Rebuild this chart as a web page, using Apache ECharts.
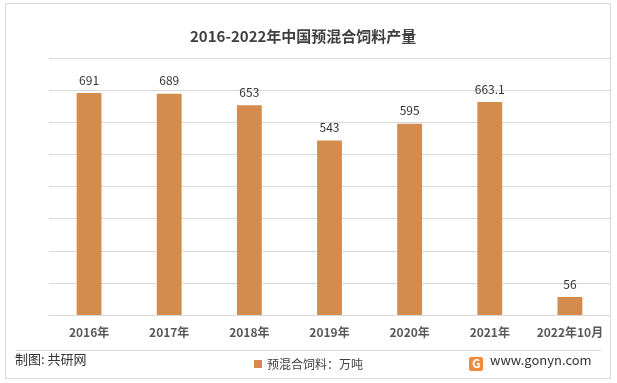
<!DOCTYPE html>
<html><head><meta charset="utf-8">
<script src="https://cdn.jsdelivr.net/npm/echarts@6/dist/echarts.min.js"></script>
<style>html,body{margin:0;padding:0;background:#fff}#c{width:617px;height:383px}</style>
</head><body><div id="c"></div>
<script>
const categories = ['2016年','2017年','2018年','2019年','2020年','2021年','2022年10月'];
const values = [691, 689, 653, 543, 595, 663.1, 56];
const seriesName = '预混合饲料：万吨';
const titleText = '2016-2022年中国预混合饲料产量';
const font = '"Microsoft YaHei","Noto Sans CJK SC",sans-serif';
const chart = echarts.init(document.getElementById('c'));
chart.setOption({
  animation: false,
  backgroundColor: '#fff',
  title: { text: titleText, left: 185, top: 24,
    textStyle: { fontFamily: font, fontSize: 15, fontWeight: 'bold', color: '#404040' } },
  grid: { left: 49, right: 7, top: 58, bottom: 68 },
  legend: { data: [seriesName], left: 'center', top: 353, itemWidth: 8, itemHeight: 8, icon: 'rect',
    textStyle: { fontFamily: font, fontSize: 12, color: '#404040' } },
  xAxis: { type: 'category', data: categories,
    axisLine: { lineStyle: { color: '#D9D9D9' } }, axisTick: { show: false },
    axisLabel: { margin: 11, fontFamily: font, fontSize: 12, fontWeight: 'bold', color: '#595959', interval: 0 } },
  yAxis: { type: 'value', min: 0, max: 800, interval: 100,
    axisLabel: { show: false }, axisLine: { show: false }, axisTick: { show: false },
    splitLine: { lineStyle: { color: '#D9D9D9', width: 1 } } },
  series: [{ name: seriesName, type: 'bar', data: values, barWidth: '31%',
    itemStyle: { color: '#D48B4E' },
    label: { show: true, position: 'top', distance: 7, fontFamily: font, fontSize: 12, color: '#333' } }],
  graphic: [
    { type: 'rect', shape: { x: 5.5, y: 3.5, width: 605, height: 375 }, style: { fill: 'none', stroke: '#D9D9D9', lineWidth: 1 }, z: -1 },
    { type: 'line', shape: { x1: 16, y1: 350.5, x2: 601, y2: 350.5 }, style: { stroke: '#D9D9D9', lineWidth: 1 } },
    { type: 'text', left: 15, top: 353, style: { text: '制图: 共研网', fontFamily: font, fontSize: 13, fill: '#333' } },
    { type: 'rect', shape: { x: 469, y: 357, width: 14, height: 14, r: 2 }, style: { fill: '#F08A3C' } },
    { type: 'text', left: 472, top: 357, style: { text: 'G', fontFamily: font, fontSize: 12, fontWeight: 'bold', fill: '#fff' } },
    { type: 'text', left: 490, top: 354, style: { text: 'www.gonyn.com', fontFamily: font, fontSize: 13, fill: '#333' } }
  ]
});
</script></body></html>
